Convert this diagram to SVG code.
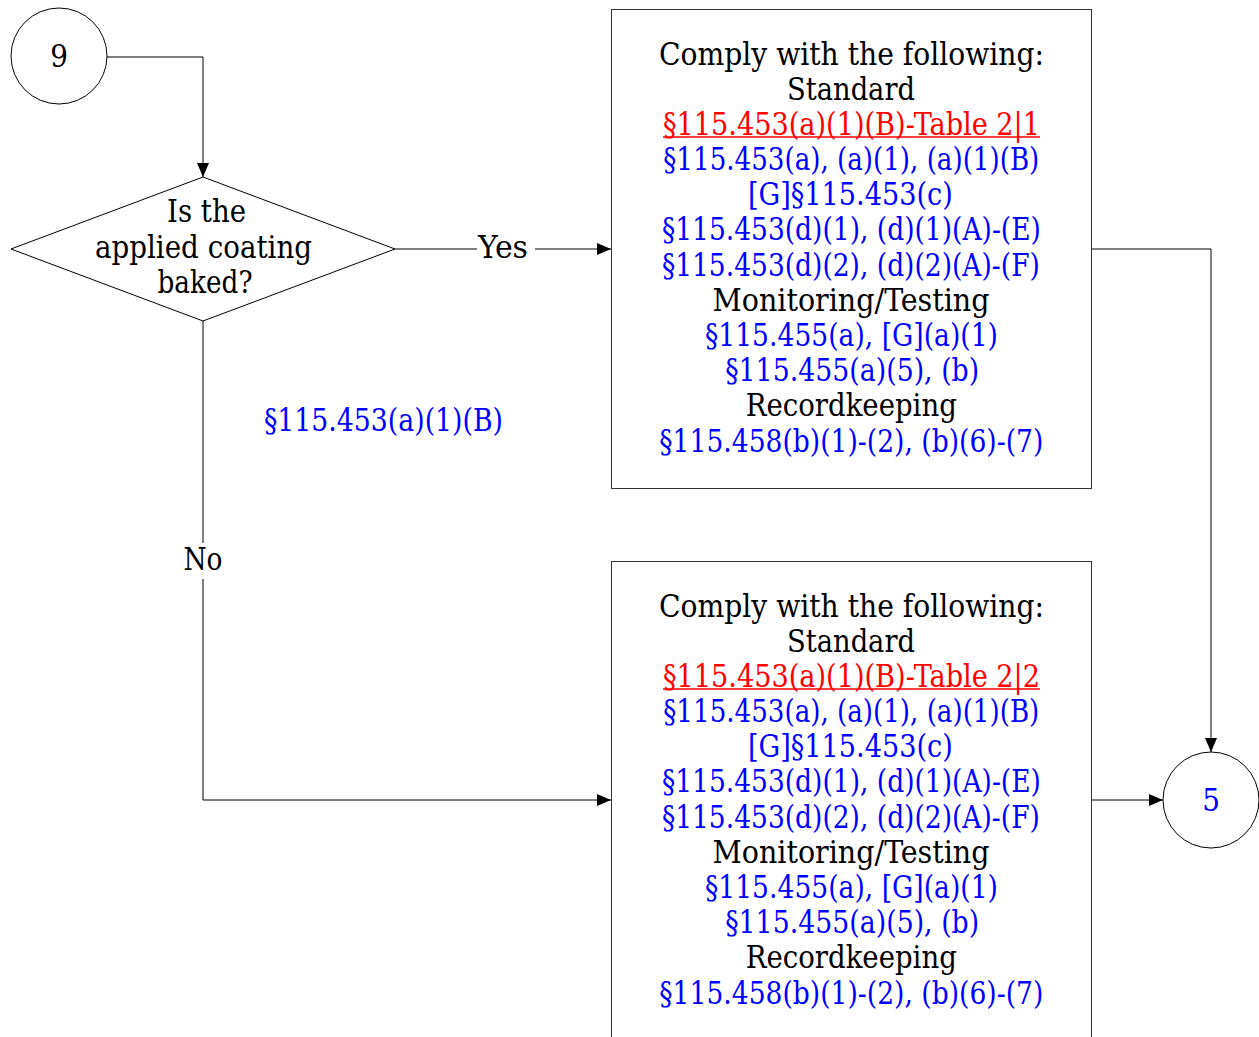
<svg xmlns="http://www.w3.org/2000/svg" width="1259" height="1037" viewBox="0 0 1259 1037">
<style>
text{font-family:"DejaVu Serif Condensed","DejaVu Serif",serif;font-stretch:condensed;font-size:31px;text-anchor:middle;fill:#000}
.b{fill:#0000ff}
.r{fill:#ff0000}
.ul{stroke:#ff0000;stroke-width:1.6}
.shape{fill:#fff;stroke:#000;stroke-width:1}
.box{fill:#fff;stroke:#333;stroke-width:1}
.conn{fill:none;stroke:#000;stroke-width:1}
</style>
<defs>
<marker id="arr" markerWidth="14" markerHeight="12" refX="14" refY="6" orient="auto" markerUnits="userSpaceOnUse">
<path d="M0,0 L14,6 L0,12 Z" fill="#000"/>
</marker>
</defs>
<rect width="1259" height="1037" fill="#fff"/>
<g id="connectors">
<path class="conn" d="M107,57 H203 V177" marker-end="url(#arr)"/>
<path class="conn" d="M395,249 H611" marker-end="url(#arr)"/>
<path class="conn" d="M203,321 V800 H611" marker-end="url(#arr)"/>
<path class="conn" d="M1091,249 H1211 V752" marker-end="url(#arr)"/>
<path class="conn" d="M1091,800 H1163" marker-end="url(#arr)"/>
<rect x="477" y="234" width="58" height="30" fill="#fff"/>
<text x="503" y="258" textLength="50" lengthAdjust="spacingAndGlyphs">Yes</text>
<rect x="180" y="543" width="46" height="36" fill="#fff"/>
<text x="203" y="570" textLength="39" lengthAdjust="spacingAndGlyphs">No</text>
<text class="b" x="383.5" y="431" textLength="239" lengthAdjust="spacingAndGlyphs">§115.453(a)(1)(B)</text>
</g>
<g id="n9">
<circle class="shape" cx="59" cy="56" r="48"/>
<text x="59" y="67">9</text>
</g>
<g id="decision">
<path class="shape" d="M203,177 L395,249 L203,321 L11,249 Z"/>
<text x="206.5" y="222" textLength="79" lengthAdjust="spacingAndGlyphs">Is the</text>
<text x="203.5" y="258" textLength="217" lengthAdjust="spacingAndGlyphs">applied coating</text>
<text x="205" y="293" textLength="95" lengthAdjust="spacingAndGlyphs">baked?</text>
</g>
<g id="box1">
<rect class="box" x="611.5" y="9.5" width="480" height="479"/>
<text x="851.5" y="65" textLength="385" lengthAdjust="spacingAndGlyphs">Comply with the following:</text>
<text x="851" y="100" textLength="128" lengthAdjust="spacingAndGlyphs">Standard</text>
<text class="r" x="851.5" y="134.5" textLength="377" lengthAdjust="spacingAndGlyphs">§115.453(a)(1)(B)-Table 2|1</text>
<line class="ul" x1="663" y1="137" x2="1040" y2="137"/>
<text class="b" x="851.3" y="170" textLength="376" lengthAdjust="spacingAndGlyphs">§115.453(a), (a)(1), (a)(1)(B)</text>
<text class="b" x="850.4" y="205" textLength="205" lengthAdjust="spacingAndGlyphs">[G]§115.453(c)</text>
<text class="b" x="851.4" y="240" textLength="379" lengthAdjust="spacingAndGlyphs">§115.453(d)(1), (d)(1)(A)-(E)</text>
<text class="b" x="850.9" y="276" textLength="378" lengthAdjust="spacingAndGlyphs">§115.453(d)(2), (d)(2)(A)-(F)</text>
<text x="851" y="311" textLength="277" lengthAdjust="spacingAndGlyphs">Monitoring/Testing</text>
<text class="b" x="851.5" y="346" textLength="293" lengthAdjust="spacingAndGlyphs">§115.455(a), [G](a)(1)</text>
<text class="b" x="852.2" y="381" textLength="254" lengthAdjust="spacingAndGlyphs">§115.455(a)(5), (b)</text>
<text x="851.3" y="416" textLength="211" lengthAdjust="spacingAndGlyphs">Recordkeeping</text>
<text class="b" x="851.3" y="452" textLength="384" lengthAdjust="spacingAndGlyphs">§115.458(b)(1)-(2), (b)(6)-(7)</text>
</g>
<g id="box2">
<rect class="box" x="611.5" y="561.5" width="480" height="490"/>
<text x="851.5" y="617" textLength="385" lengthAdjust="spacingAndGlyphs">Comply with the following:</text>
<text x="851" y="652" textLength="128" lengthAdjust="spacingAndGlyphs">Standard</text>
<text class="r" x="851.5" y="686.5" textLength="377" lengthAdjust="spacingAndGlyphs">§115.453(a)(1)(B)-Table 2|2</text>
<line class="ul" x1="663" y1="689" x2="1040" y2="689"/>
<text class="b" x="851.3" y="722" textLength="376" lengthAdjust="spacingAndGlyphs">§115.453(a), (a)(1), (a)(1)(B)</text>
<text class="b" x="850.4" y="757" textLength="205" lengthAdjust="spacingAndGlyphs">[G]§115.453(c)</text>
<text class="b" x="851.4" y="792" textLength="379" lengthAdjust="spacingAndGlyphs">§115.453(d)(1), (d)(1)(A)-(E)</text>
<text class="b" x="850.9" y="828" textLength="378" lengthAdjust="spacingAndGlyphs">§115.453(d)(2), (d)(2)(A)-(F)</text>
<text x="851" y="863" textLength="277" lengthAdjust="spacingAndGlyphs">Monitoring/Testing</text>
<text class="b" x="851.5" y="898" textLength="293" lengthAdjust="spacingAndGlyphs">§115.455(a), [G](a)(1)</text>
<text class="b" x="852.2" y="933" textLength="254" lengthAdjust="spacingAndGlyphs">§115.455(a)(5), (b)</text>
<text x="851.3" y="968" textLength="211" lengthAdjust="spacingAndGlyphs">Recordkeeping</text>
<text class="b" x="851.3" y="1004" textLength="384" lengthAdjust="spacingAndGlyphs">§115.458(b)(1)-(2), (b)(6)-(7)</text>
</g>
<g id="n5">
<circle class="shape" cx="1211" cy="800" r="48"/>
<text class="b" x="1211" y="811">5</text>
</g>
</svg>
